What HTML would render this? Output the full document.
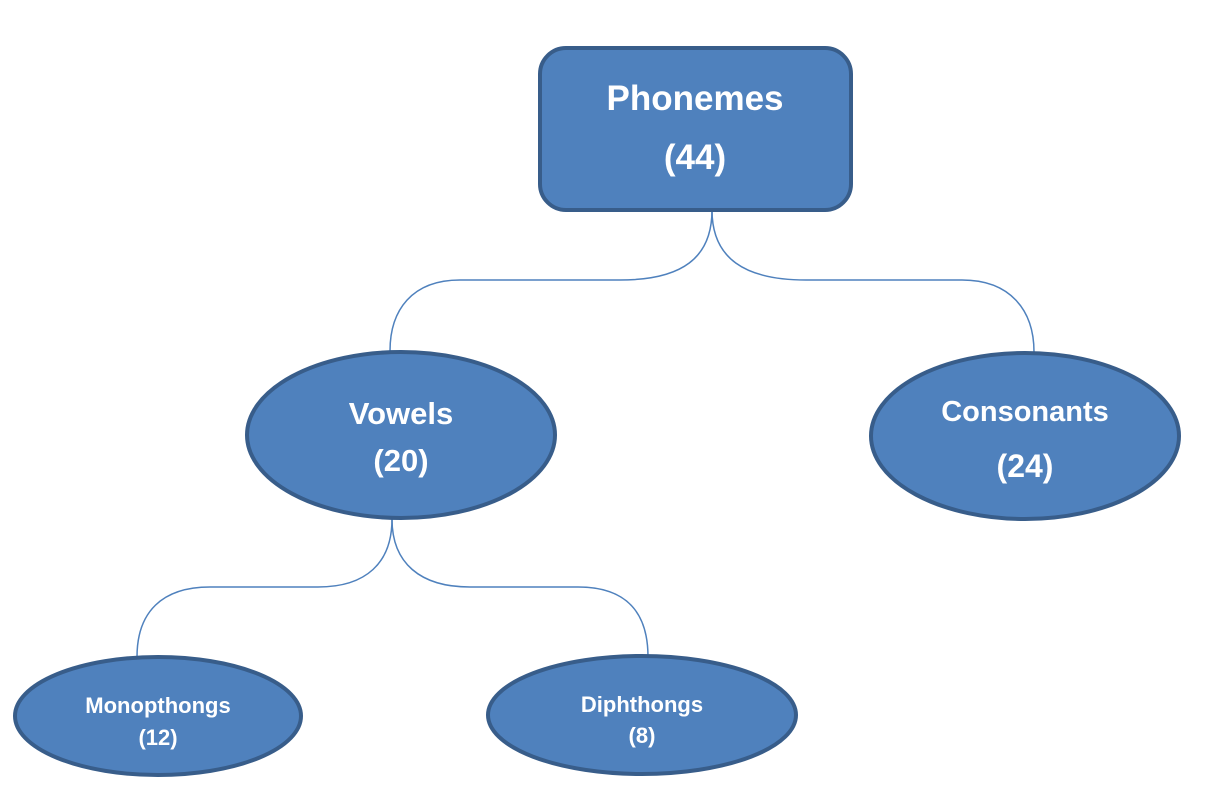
<!DOCTYPE html>
<html><head><meta charset="utf-8"><style>
html,body{margin:0;padding:0;background:#fff;}
svg{display:block;}
text{font-family:"Liberation Sans",sans-serif;font-weight:bold;fill:#fff;text-anchor:middle;}
</style></head><body>
<svg width="1210" height="797" viewBox="0 0 1210 797" xmlns="http://www.w3.org/2000/svg">
<g fill="none" stroke="#4F81BD" stroke-width="1.5">
<path d="M712,210 C712,258 682,280 620,280 L460,280 C412,280 390,310 390,351"/>
<path d="M712,210 C712,258 744,280 806,280 L962,280 C1010,280 1034,310 1034,352"/>
<path d="M392,519 C392,563 366,587 318,587 L210,587 C162,587 137,612 137,657"/>
<path d="M392,519 C392,563 420,587 470,587 L578,587 C626,587 648,612 648,657"/>
</g>
<g fill="#4F81BD" stroke="#385D8A" stroke-width="4">
<rect x="540" y="48" width="311" height="162" rx="26" ry="26"/>
<ellipse cx="401" cy="435" rx="154" ry="83"/>
<ellipse cx="1025" cy="436" rx="154" ry="83"/>
<ellipse cx="158" cy="716" rx="143" ry="59"/>
<ellipse cx="642" cy="715" rx="154" ry="59"/>
</g>
<text x="695" y="110" font-size="35">Phonemes</text>
<text x="695" y="169" font-size="35">(44)</text>
<text x="401" y="424" font-size="31">Vowels</text>
<text x="401" y="471" font-size="31">(20)</text>
<text x="1025" y="421" font-size="29">Consonants</text>
<text x="1025" y="477" font-size="32">(24)</text>
<text x="158" y="713" font-size="22">Monopthongs</text>
<text x="158" y="745" font-size="22">(12)</text>
<text x="642" y="712" font-size="22">Diphthongs</text>
<text x="642" y="743" font-size="22">(8)</text>
</svg>
</body></html>
